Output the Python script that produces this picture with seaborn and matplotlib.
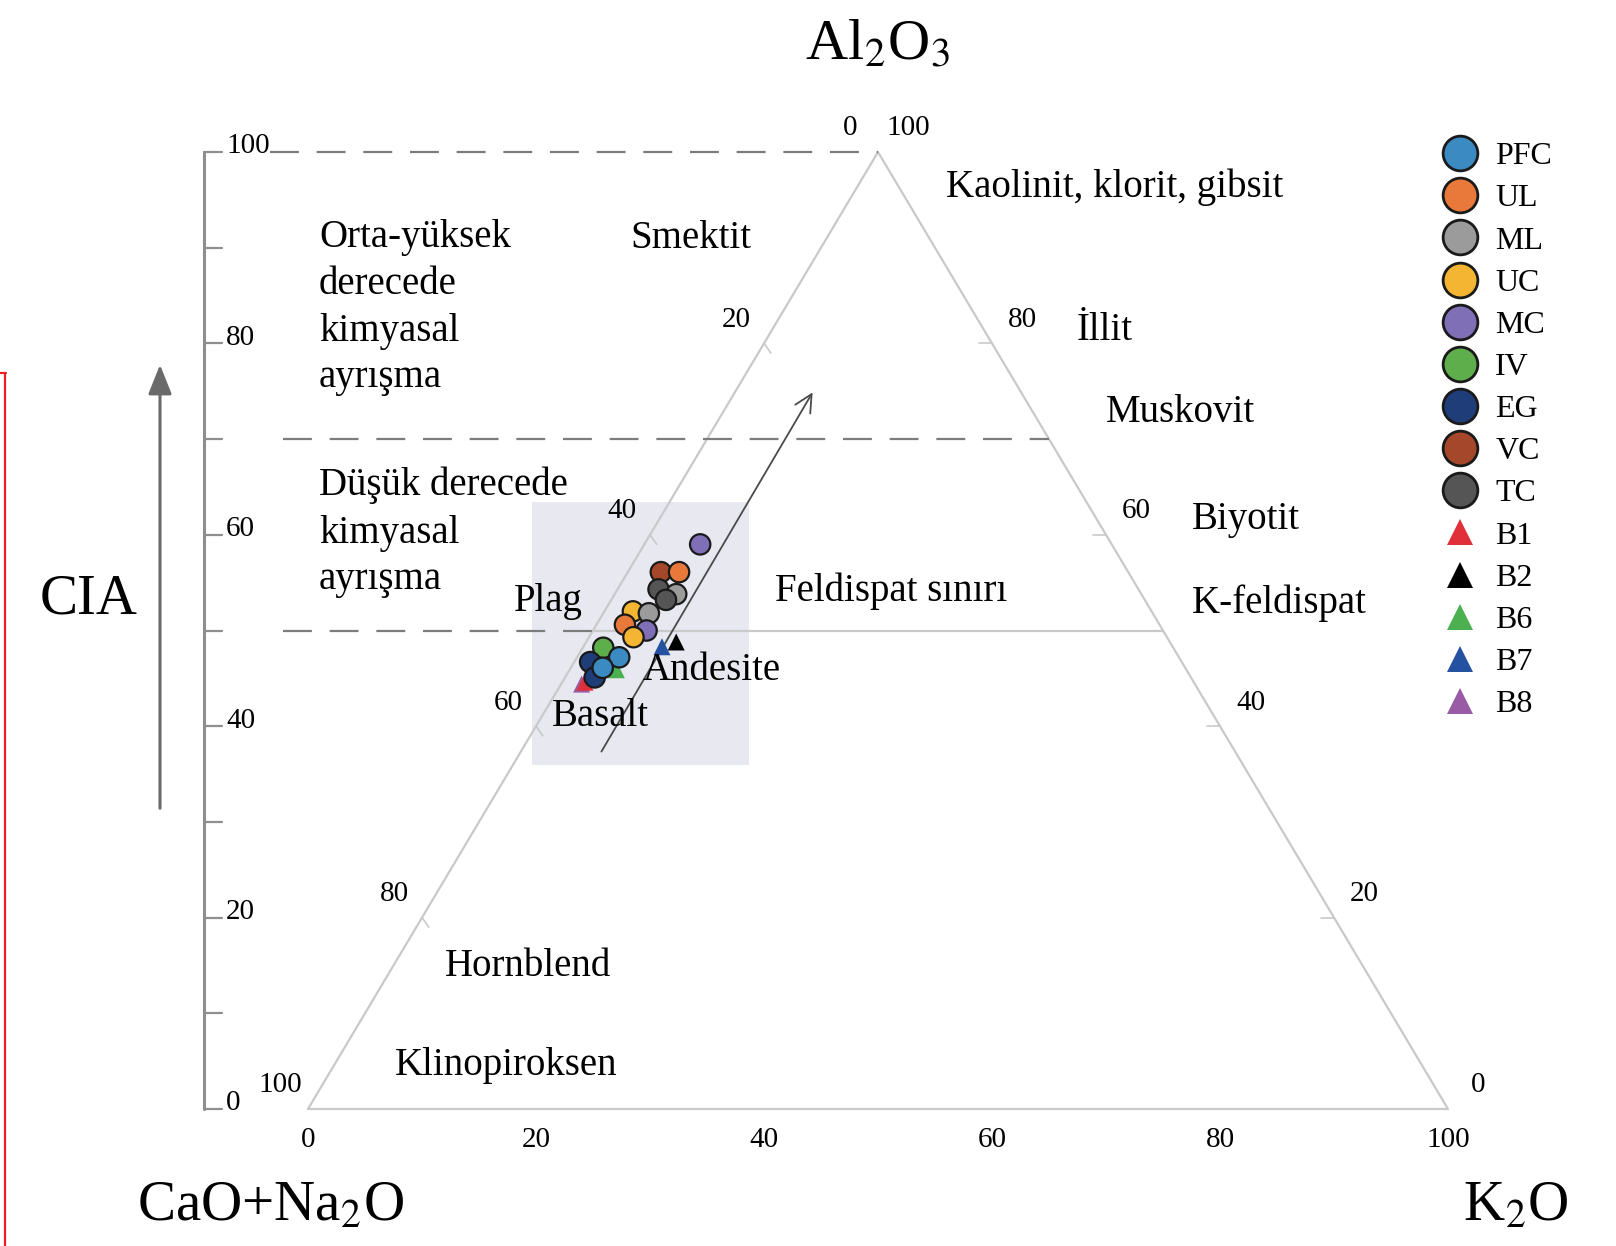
import numpy as np
import pandas as pd
import matplotlib
matplotlib.use("Agg")
import matplotlib.pyplot as plt
import seaborn as sns
from matplotlib.lines import Line2D
from matplotlib.patches import Rectangle

# Figure size in pixels and the pixel frame of the ternary triangle
W, H = 1616, 1246
X0, Y0 = 308, 1109          # CaO+Na2O corner (px)
SX, SY = 11.4, 9.57          # px per percent along base / height

# Samples (A-CN-K, molar %)
point_sample = ["MC", "VC", "UL", "TC", "ML", "TC", "UC", "ML", "UL", "MC", "UC",
                "IV", "EG", "PFC", "EG", "PFC",
                "B2", "B7", "B6", "B8", "B1"]
al2o3 = [59.0, 56.1, 56.1, 54.3, 53.8, 53.2, 52.0, 51.8, 50.6, 50.0, 49.3,
         48.2, 46.7, 47.2, 45.1, 46.1,
         48.8, 48.3, 45.9, 44.4, 44.6]
cn = [36.1, 41.0, 39.4, 42.1, 40.8, 42.0, 45.5, 44.2, 46.9, 45.3, 46.8,
      50.0, 51.9, 49.1, 52.3, 51.1,
      43.3, 44.8, 50.0, 53.8, 53.4]
k2o = [4.9, 2.9, 4.5, 3.6, 5.4, 4.8, 2.5, 4.0, 2.5, 4.7, 3.9,
       1.8, 1.4, 3.7, 2.6, 2.8,
       7.9, 6.9, 4.1, 1.8, 2.0]

circle_groups = ["PFC", "UL", "ML", "UC", "MC", "IV", "EG", "VC", "TC"]
triangle_groups = ["B1", "B2", "B6", "B7", "B8"]
group_colors = ["#3b8bc2", "#e8793a", "#9b9b9b", "#f4b632", "#7f6fb6", "#5fae4c",
                "#1f3d78", "#a4472a", "#555555",
                "#e0303a", "#000000", "#4cb050", "#2452a0", "#9a5ba6"]
palette = dict(zip(circle_groups + triangle_groups, group_colors))

edge_ticks = [0, 20, 40, 60, 80, 100]
cia_ticks = list(range(0, 101, 10))
cia_labels = [0, 20, 40, 60, 80, 100]
cia_limits = [100, 70, 50]


def fig_xy(px, py):
    return px / W, 1 - py / H


def data_xy(px, py):
    return (px - X0) / SX, (Y0 - py) / SY


sns.set_theme(style="white")
plt.rcParams["font.family"] = ["Liberation Serif", "DejaVu Serif"]
plt.rcParams["mathtext.fontset"] = "stix"
plt.rcParams["text.color"] = "black"

df = pd.DataFrame({"sample": point_sample, "A": al2o3, "CN": cn, "K": k2o})
df["X"] = df["K"] + df["A"] / 2
df["Y"] = df["A"]

fig = plt.figure(figsize=(W / 100, H / 100), dpi=100)
ax = fig.add_axes([0, 0, 1, 1])
ax.set_xlim(-X0 / SX, (W - X0) / SX)
ax.set_ylim((Y0 - H) / SY, Y0 / SY)
ax.axis("off")

tri_col = "#c9c9c9"
dash_col = "#7c7c7c"

# shaded box behind the cluster
bx0, by0 = data_xy(532, 765)
bx1, by1 = data_xy(749, 502)
ax.add_patch(Rectangle((bx0, by0), bx1 - bx0, by1 - by0, color="#e8e8f1", zorder=0, lw=0))

# triangle
ax.plot([0, 100, 50, 0], [0, 0, 100, 0], color=tri_col, lw=1.6, zorder=1)
# feldspar join
ax.plot([25, 75], [50, 50], color=tri_col, lw=1.6, zorder=1)

# edge ticks and labels
for v in edge_ticks:
    a = 100 - v
    ax.annotate(str(v), (a / 2, a), xytext=(-20, 17), textcoords="offset points",
                ha="center", va="center", fontsize=21)
    ax.annotate(str(v), (100 - v / 2, v), xytext=(22, 17), textcoords="offset points",
                ha="center", va="center", fontsize=21)
    ax.annotate(str(v), (v, 0), xytext=(0, -22), textcoords="offset points",
                ha="center", va="center", fontsize=21)
    if 0 < v < 100:
        ax.plot([a / 2, a / 2 + 0.6], [a, a - 1.0], color=tri_col, lw=1.2, zorder=1)
        ax.plot([100 - v / 2, 100 - v / 2 - 1.1], [v, v], color=tri_col, lw=1.2, zorder=1)

# CIA axis
ax_x = (204 - X0) / SX
tick_x = (222 - X0) / SX
ax.plot([ax_x, ax_x], [0, 100], color="#8e8e8e", lw=2.2, zorder=1)
for t in cia_ticks:
    ax.plot([ax_x, tick_x], [t, t], color="#8e8e8e", lw=1.6, zorder=1)
for t in cia_labels:
    ax.annotate(str(t), (tick_x, t), xytext=(3, 4), textcoords="offset points",
                ha="left", va="center", fontsize=21)

# CIA limit lines
for lim in cia_limits:
    start = (270 - X0) / SX if lim == 100 else (283 - X0) / SX
    end = 50 if lim == 100 else (lim / 2 if lim == 50 else 100 - lim / 2)
    ax.plot([start, end], [lim, lim], color=dash_col, lw=1.6, dashes=(13, 8), zorder=1)

# CIA arrow
ax.annotate("", xy=data_xy(160, 362), xytext=data_xy(160, 811),
            arrowprops=dict(arrowstyle="-|>,head_length=0.45,head_width=0.18",
                            mutation_scale=40, color="#6a6a6a", lw=2.2))
fig.text(*fig_xy(89, 600), "CIA", fontsize=41, ha="center", va="center")

# weathering trend arrow
ax.annotate("", xy=data_xy(814, 390), xytext=data_xy(600, 754),
            arrowprops=dict(arrowstyle="->,head_length=0.5,head_width=0.25",
                            mutation_scale=25, color="#4a4a4a", lw=1.3), zorder=3)

# data
circ = df[df["sample"].isin(circle_groups)]
tri = df[df["sample"].isin(triangle_groups)]
sns.scatterplot(data=tri, x="X", y="Y", hue="sample", palette=palette, marker="^",
                s=150, linewidth=0, legend=False, ax=ax, zorder=4)
sns.scatterplot(data=circ, x="X", y="Y", hue="sample", palette=palette, marker="o",
                s=215, edgecolor="#1a1a1a", linewidth=1.6, legend=False, ax=ax, zorder=5)

# corner labels
fig.text(*fig_xy(878, 46), r"Al$_2$O$_3$", fontsize=42, ha="center", va="center")
fig.text(*fig_xy(137, 1206), r"CaO+Na$_2$O", fontsize=41, ha="left", va="center")
fig.text(*fig_xy(1516, 1206), r"K$_2$O", fontsize=41, ha="center", va="center")

# field labels (one text per line)
region_labels = [
    ("Kaolinit, klorit, gibsit", 946, 187),
    ("Smektit", 630, 238),
    ("Orta-yüksek", 319, 238),
    ("derecede", 319, 284),
    ("kimyasal", 319, 331),
    ("ayrışma", 319, 377),
    ("İllit", 1077, 331),
    ("Muskovit", 1106, 413),
    ("Düşük derecede", 319, 485),
    ("kimyasal", 319, 533),
    ("ayrışma", 319, 580),
    ("Biyotit", 1192, 520),
    ("Plag", 514, 601),
    ("Feldispat sınırı", 775, 591),
    ("K-feldispat", 1192, 603),
    ("Andesite", 643, 670),
    ("Basalt", 552, 716),
    ("Hornblend", 445, 967),
    ("Klinopiroksen", 395, 1065),
]
for txt, px, py in region_labels:
    fig.text(*fig_xy(px, py), txt, fontsize=28, ha="left", va="center", zorder=6)

# legend
handles = []
for g in circle_groups:
    handles.append(Line2D([], [], ls="", marker="o", markersize=25, markerfacecolor=palette[g],
                          markeredgecolor="#1a1a1a", markeredgewidth=2, label=g))
for g in triangle_groups:
    handles.append(Line2D([], [], ls="", marker="^", markersize=19, markerfacecolor=palette[g],
                          markeredgewidth=0, label=g))
fig.legend(handles=handles, loc="upper left", bbox_to_anchor=fig_xy(1441, 142),
           frameon=False, fontsize=23, handlelength=1.2, handletextpad=0.5,
           labelspacing=0.4, borderpad=0, borderaxespad=0, labelcolor="black")

# red frame edge at left
fig.add_artist(Line2D([5 / W, 5 / W], [0, 1 - 373 / H], color="#ee1c25", lw=1.6,
                      transform=fig.transFigure))
fig.add_artist(Line2D([0, 6 / W], [1 - 373 / H, 1 - 373 / H], color="#ee1c25", lw=1.6,
                      transform=fig.transFigure))

fig.savefig("out.png", dpi=100, facecolor="white")
